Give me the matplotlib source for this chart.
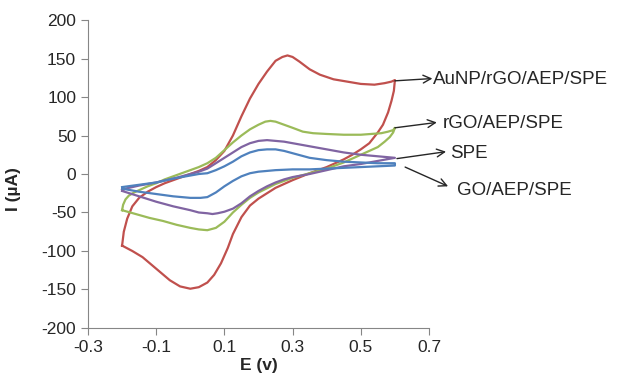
import matplotlib
matplotlib.use('Agg')
import matplotlib.pyplot as plt

plt.rcParams['font.family'] = ['Liberation Sans', 'DejaVu Sans']
plt.rcParams['axes.unicode_minus'] = False

# AuNP/rGO/AEP/SPE (red)
red_e_fwd = [-0.2, -0.195, -0.185, -0.17, -0.15, -0.125, -0.1, -0.075, -0.05, -0.025, 0.0, 0.025, 0.05, 0.075, 0.1,
             0.125, 0.15, 0.175, 0.2, 0.225, 0.25, 0.27, 0.285, 0.3, 0.32, 0.35, 0.38, 0.42, 0.46, 0.5, 0.54, 0.57, 0.59, 0.6]
red_i_fwd = [-93, -75, -58, -42, -31, -23, -17, -12, -8, -4, 0, 4, 9, 18, 30,
             50, 75, 98, 117, 133, 147, 152, 154, 152, 146, 136, 129, 123, 120, 117, 116, 118, 120, 122]
red_e_rev = [0.6, 0.597, 0.59, 0.58, 0.565, 0.55, 0.525, 0.5, 0.475, 0.45, 0.4, 0.35, 0.3, 0.25, 0.2, 0.175,
             0.15, 0.125, 0.11, 0.09, 0.07, 0.05, 0.025, 0.0, -0.03, -0.06, -0.1, -0.14, -0.17, -0.2]
red_i_rev = [122, 108, 95, 80, 64, 54, 40, 32, 25, 19, 9, 1, -8, -18, -32, -41,
             -56, -78, -96, -116, -131, -141, -147, -149, -146, -138, -123, -108, -100, -93]

# rGO/AEP/SPE (green)
grn_e_fwd = [-0.2, -0.197, -0.19, -0.18, -0.165, -0.15, -0.125, -0.1, -0.075, -0.05, -0.025, 0.0, 0.025, 0.05, 0.075,
             0.1, 0.125, 0.15, 0.175, 0.2, 0.22, 0.235, 0.25, 0.275, 0.3, 0.33, 0.36, 0.4, 0.45, 0.5, 0.53, 0.56, 0.58, 0.595, 0.6]
grn_i_fwd = [-47, -40, -33, -28, -24, -21, -16, -12, -7, -3, 1, 5, 9, 14, 21,
             31, 41, 50, 58, 64, 68, 69, 68, 64, 60, 55, 53, 52, 51, 51, 52, 53, 55, 57, 60]
grn_e_rev = [0.6, 0.595, 0.585, 0.57, 0.55, 0.525, 0.5, 0.45, 0.4, 0.35, 0.3, 0.25, 0.2, 0.175, 0.15, 0.125,
             0.1, 0.075, 0.05, 0.025, 0.0, -0.04, -0.08, -0.12, -0.16, -0.2]
grn_i_rev = [60, 54, 48, 42, 35, 30, 25, 15, 7, 1, -5, -13, -24, -31, -40, -50,
             -62, -70, -73, -72, -70, -66, -61, -57, -52, -47]

# GO/AEP/SPE (purple)
pur_e_fwd = [-0.2, -0.19, -0.15, -0.1, -0.05, -0.025, 0.0, 0.025, 0.05, 0.075, 0.1, 0.125, 0.15, 0.175, 0.2,
             0.225, 0.25, 0.275, 0.3, 0.35, 0.4, 0.45, 0.5, 0.55, 0.6]
pur_i_fwd = [-21, -19, -15, -11, -6, -3, 0, 3, 7, 14, 21, 28, 35, 40, 43,
             44, 43, 42, 40, 36, 32, 28, 25, 23, 21]
pur_e_rev = [0.6, 0.55, 0.5, 0.45, 0.4, 0.35, 0.3, 0.275, 0.25, 0.225, 0.2, 0.175, 0.15, 0.125, 0.1, 0.08,
             0.065, 0.05, 0.025, 0.0, -0.05, -0.1, -0.15, -0.2]
pur_i_rev = [21, 17, 13, 10, 5, 0, -4, -7, -11, -16, -22, -29, -38, -45, -49, -51,
             -52, -51, -50, -47, -42, -36, -29, -22]

# SPE (blue)
blu_e_fwd = [-0.2, -0.15, -0.1, -0.05, 0.0, 0.025, 0.05, 0.075, 0.1, 0.125, 0.15, 0.175, 0.2, 0.225, 0.25,
             0.275, 0.3, 0.35, 0.4, 0.45, 0.5, 0.55, 0.6]
blu_i_fwd = [-17, -14, -11, -6, -2, 0, 1, 5, 10, 16, 23, 28, 31, 32, 32,
             30, 27, 21, 18, 16, 15, 14, 14]
blu_e_rev = [0.6, 0.55, 0.5, 0.45, 0.4, 0.35, 0.3, 0.25, 0.2, 0.175, 0.15, 0.125, 0.1, 0.075, 0.05,
             0.03, 0.0, -0.05, -0.1, -0.15, -0.2]
blu_i_rev = [11, 10, 9, 8, 7, 6, 6, 5, 3, 1, -3, -9, -16, -24, -30,
             -31, -31, -29, -26, -23, -19]

x_ticks = [-0.3, -0.1, 0.1, 0.3, 0.5, 0.7]
y_ticks = [-200, -150, -100, -50, 0, 50, 100, 150, 200]

fig = plt.figure(figsize=(6.24, 3.82), dpi=100)
ax = fig.add_axes([0.141, 0.1414, 0.5465, 0.8062])

curves = [
    (red_e_fwd, red_i_fwd, red_e_rev, red_i_rev, '#C0504D'),
    (grn_e_fwd, grn_i_fwd, grn_e_rev, grn_i_rev, '#9BBB59'),
    (pur_e_fwd, pur_i_fwd, pur_e_rev, pur_i_rev, '#8064A2'),
    (blu_e_fwd, blu_i_fwd, blu_e_rev, blu_i_rev, '#4F81BD'),
]
for ef, i_f, er, i_r, col in curves:
    ax.plot(ef + er, i_f + i_r, color=col, lw=1.6, solid_joinstyle='round')

ax.set_xlim(-0.3, 0.7)
ax.set_ylim(-200, 200)
ax.set_xticks(x_ticks)
ax.set_xticklabels(['%.1f' % v for v in x_ticks])
ax.set_yticks(y_ticks)
for s in ['top', 'right']:
    ax.spines[s].set_visible(False)
for s in ['left', 'bottom']:
    ax.spines[s].set_color('#868686')
ax.tick_params(colors='#868686', labelcolor='#262626', labelsize=12.5, length=5, direction='out')

ax.set_xlabel('E (v)', fontsize=12.5, fontweight='bold', color='#262626', labelpad=2)
ax.set_ylabel('I (µA)', fontsize=12.5, fontweight='bold', color='#262626')
ax.yaxis.set_label_coords(-0.195, 0.45)

labels = [
    ('AuNP/rGO/AEP/SPE', (0.6, 121), (0.71, 124), (0.712, 123)),
    ('rGO/AEP/SPE', (0.6, 60), (0.723, 67), (0.741, 66)),
    ('SPE', (0.606, 20), (0.75, 29), (0.762, 27)),
    ('GO/AEP/SPE', (0.63, 9), (0.756, -16), (0.782, -21)),
]
for txt, tail, tip, pos in labels:
    ax.annotate('', xy=tip, xytext=tail, annotation_clip=False,
                arrowprops=dict(arrowstyle='->', color='#262626', lw=1,
                                shrinkA=0, shrinkB=0, mutation_scale=14))
    ax.text(pos[0], pos[1], txt, fontsize=13.5, color='#262626', va='center', ha='left', clip_on=False)

fig.savefig('out.png', dpi=100)
